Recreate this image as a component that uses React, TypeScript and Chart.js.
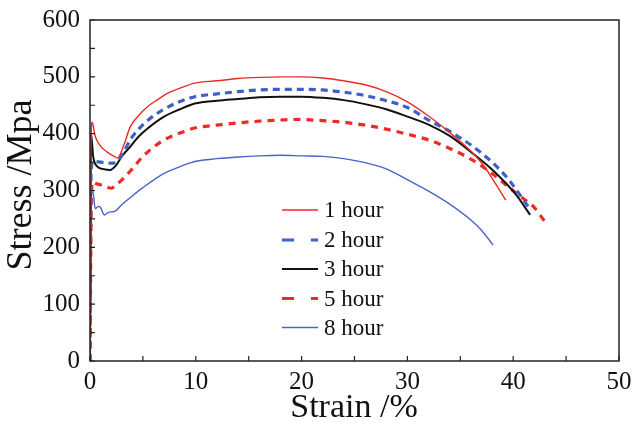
import React, { useEffect, useRef } from "react";
import { Chart, registerables } from "chart.js";

Chart.register(...registerables);

const seriesNames = ["1 hour", "2 hour", "3 hour", "5 hour", "8 hour"];

const strain1h = [0, 0.05, 0.2, 0.5, 1.0, 1.6, 2.3, 2.6, 3.2, 3.8, 4.6, 5.4, 6.4, 7.3, 8.5, 9.9, 12, 14, 16, 18, 20, 22, 24, 26, 28, 30, 32, 34, 36, 37.2, 38.4, 39.3];
const stress1h = [0, 300, 420, 395, 378, 368, 360, 357, 380, 412, 432, 447, 460, 471, 480, 489, 493, 497, 499, 500, 500, 498, 493, 486, 474, 456, 431, 402, 369, 344, 310, 283];

const strain2h = [0, 0.1, 0.3, 0.6, 1.0, 1.5, 2.0, 2.6, 3.2, 3.8, 4.6, 5.5, 6.9, 8.3, 9.9, 12, 14, 16, 18, 20, 22, 24, 26, 28, 30, 32, 34, 36, 38, 39.5, 40.3, 41.4];
const stress2h = [0, 330, 352, 351, 350, 349, 348, 352, 368, 389, 408, 424, 442, 455, 465, 470, 474, 477, 478, 478, 477, 473, 467, 458, 446, 424, 404, 380, 350, 321, 301, 272];

const strain3h = [0, 0.1, 0.3, 0.7, 1.2, 1.9, 2.5, 3.0, 3.8, 4.6, 5.5, 7.0, 8.5, 9.9, 12, 14, 16, 18, 20, 22, 24, 26, 28, 30, 32, 34, 36, 38, 40.3, 41.6];
const stress3h = [0, 400, 360, 342, 338, 336, 345, 360, 377, 395, 410, 430, 443, 453, 458, 461, 464, 465, 465, 463, 459, 452, 443, 430, 416, 396, 368, 337, 292, 257];

const strain5h = [0, 0.1, 0.25, 0.6, 1.0, 1.5, 2.0, 2.5, 3.2, 3.9, 5.0, 7.0, 8.5, 9.9, 12, 14, 16, 18, 19.5, 22, 24, 26, 28, 30, 32, 34, 36, 38, 39.5, 41, 41.9, 43.0];
const stress5h = [0, 250, 315, 312, 310, 307, 304, 310, 322, 336, 360, 389, 401, 410, 415, 419, 422, 424, 425, 423, 420, 415, 408, 399, 389, 374, 355, 330, 307, 285, 272, 245];

const strain8h = [0, 0.1, 0.25, 0.5, 0.8, 1.0, 1.35, 1.8, 2.3, 3.0, 3.9, 5.0, 7.0, 8.5, 9.9, 12, 14, 16, 18, 20, 22, 24, 26, 28, 30, 32, 34, 36, 37, 38.1];
const stress8h = [0, 280, 300, 268, 272, 270, 257, 262, 263, 275, 289, 305, 330, 342, 351, 356, 359, 361, 362, 361, 360, 356, 349, 338, 319, 299, 276, 248, 230, 204];

const xTickValues = [0, 10, 20, 30, 40, 50];
const yTickValues = [0, 100, 200, 300, 400, 500, 600];
const xTitle = "Strain /%";
const yTitle = "Stress /Mpa";

const colors = ["#ec2a24", "#3f5fc4", "#111111", "#ee2a24", "#4a64c8"];
const widths = [1.4, 3.2, 2.0, 3.2, 1.4];
const dashes: number[][] = [[], [7, 5], [], [7, 6], []];

const FONT = "'Liberation Serif', 'Times New Roman', serif";

function toPoints(xs: number[], ys: number[]) {
  return xs.map((x, i) => ({ x, y: ys[i] }));
}

const framePlugin = {
  id: "frame",
  afterDraw(chart: any) {
    const { ctx, chartArea } = chart;
    const { left, right, top, bottom } = chartArea;
    const xs = chart.scales.x;
    const ys = chart.scales.y;
    ctx.save();
    ctx.strokeStyle = "#222";
    ctx.lineWidth = 1.5;
    ctx.strokeRect(left, top, right - left, bottom - top);
    ctx.lineWidth = 1.2;
    ctx.beginPath();
    for (let v = 0; v <= 50; v += 5) {
      const px = xs.getPixelForValue(v);
      ctx.moveTo(px, bottom);
      ctx.lineTo(px, bottom - 5);
    }
    for (let v = 0; v <= 600; v += 50) {
      const py = ys.getPixelForValue(v);
      ctx.moveTo(left, py);
      ctx.lineTo(left + 5, py);
    }
    ctx.stroke();

    // axis titles
    ctx.fillStyle = "#111";
    ctx.textAlign = "center";
    ctx.textBaseline = "middle";
    ctx.font = `34px ${FONT}`;
    ctx.fillText(xTitle, 354, 408);
    ctx.save();
    ctx.translate(22, 185);
    ctx.rotate(-Math.PI / 2);
    ctx.font = `36px ${FONT}`;
    ctx.fillText(yTitle, 0, 0);
    ctx.restore();

    // legend
    const rows = [210, 240, 269, 298.5, 327.5];
    const x0 = 282;
    const x1 = 318;
    ctx.font = `23px ${FONT}`;
    ctx.textBaseline = "middle";
    ctx.textAlign = "left";
    seriesNames.forEach((name, i) => {
      const y = rows[i];
      ctx.strokeStyle = colors[i];
      ctx.lineWidth = widths[i];
      ctx.setLineDash([]);
      ctx.beginPath();
      if (dashes[i].length) {
        ctx.moveTo(x0, y);
        ctx.lineTo(x0 + 12, y);
        ctx.moveTo(x1 - 7, y);
        ctx.lineTo(x1, y);
      } else {
        ctx.moveTo(x0, y);
        ctx.lineTo(x1, y);
      }
      ctx.stroke();
      ctx.fillStyle = "#111";
      ctx.fillText(name, 324, y + 1);
    });
    ctx.restore();
  },
};

export default function App() {
  const ref = useRef<HTMLCanvasElement | null>(null);
  useEffect(() => {
    document.body.style.margin = "0";
    const canvas = ref.current!;
    const data = [
      toPoints(strain1h, stress1h),
      toPoints(strain2h, stress2h),
      toPoints(strain3h, stress3h),
      toPoints(strain5h, stress5h),
      toPoints(strain8h, stress8h),
    ];
    const chart = new Chart(canvas, {
      type: "line",
      data: {
        datasets: seriesNames.map((name, i) => ({
          label: name,
          data: data[i],
          borderColor: colors[i],
          backgroundColor: colors[i],
          borderWidth: widths[i],
          borderDash: dashes[i],
          pointRadius: 0,
          tension: 0.3,
          cubicInterpolationMode: "monotone" as const,
          fill: false,
        })),
      },
      options: {
        animation: false,
        responsive: false,
        maintainAspectRatio: false,
        layout: { padding: { left: 0, top: 20, right: 14, bottom: 0 } },
        plugins: { legend: { display: false }, tooltip: { enabled: false } },
        scales: {
          x: {
            type: "linear",
            min: 0,
            max: 50,
            afterBuildTicks: (s: any) => {
              s.ticks = xTickValues.map((v) => ({ value: v }));
            },
            afterFit: (s: any) => {
              s.height = 65;
              s.paddingLeft = 0;
              s.paddingRight = 0;
            },
            grid: { display: false, drawTicks: false },
            border: { display: false },
            ticks: {
              color: "#111",
              padding: 6,
              maxRotation: 0,
              font: { family: FONT, size: 25 },
            },
            title: { display: false },
          },
          y: {
            type: "linear",
            min: 0,
            max: 600,
            afterBuildTicks: (s: any) => {
              s.ticks = yTickValues.map((v) => ({ value: v }));
            },
            afterFit: (s: any) => {
              s.width = 90;
              s.paddingTop = 0;
              s.paddingBottom = 0;
            },
            grid: { display: false, drawTicks: false },
            border: { display: false },
            ticks: {
              color: "#111",
              padding: 10,
              font: { family: FONT, size: 25 },
            },
            title: { display: false },
          },
        },
      },
      plugins: [framePlugin],
    });
    return () => chart.destroy();
  }, []);
  return <canvas ref={ref} width={633} height={426} style={{ display: "block" }} />;
}
